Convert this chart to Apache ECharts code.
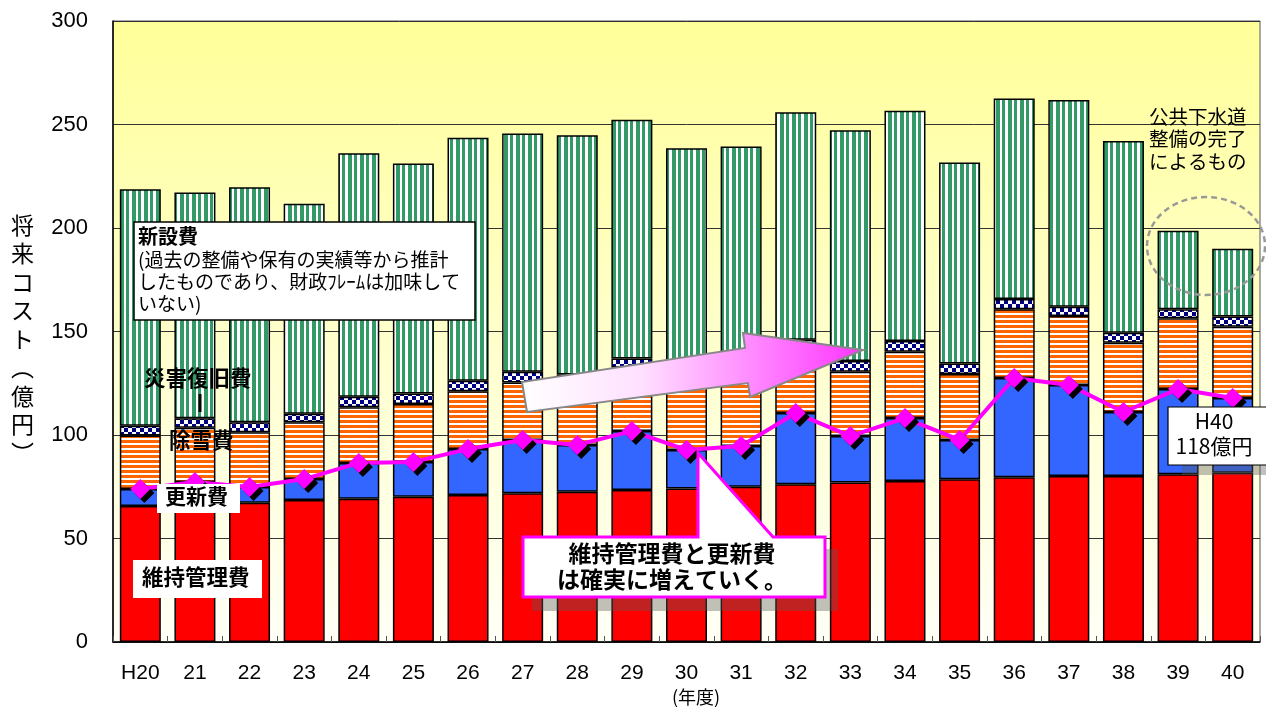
<!DOCTYPE html>
<html><head><meta charset="utf-8">
<script src="https://cdn.jsdelivr.net/npm/echarts@6/dist/echarts.min.js"></script>
<style>html,body{margin:0;padding:0;background:#fff}#c{width:1266px;height:707px}</style>
</head><body><div id="c"></div>
<script>
// ---- data ----
const years = ['H20','21','22','23','24','25','26','27','28','29','30','31','32','33','34','35','36','37','38','39','40'];
const yTicks = [0, 50, 100, 150, 200, 250, 300];
const maintenance = [65.7,66.5,67.3,68.6,69.2,70.2,71.0,71.8,72.6,73.4,74.2,75.0,76.2,77.0,77.8,78.6,79.6,80.2,80.2,81.0,81.8]; // 維持管理費
const renewal     = [8.2,10.8,7.6,10.1,17.3,16.8,22.2,25.8,22.6,28.5,18.6,19.7,34.4,22.5,30.4,19.0,47.9,44.0,30.9,41.2,36.1];   // 更新費
const snow        = [25.8,26.2,26.4,27.4,26.9,28.0,27.9,27.8,29.0,30.6,30.8,31.0,30.4,31.1,32.0,31.9,33.2,33.3,33.5,34.2,34.4]; // 除雪費
const disaster    = [4.8,4.6,4.8,4.2,5.1,5.1,5.1,5.2,5.0,4.5,5.0,5.0,5.0,5.1,5.2,5.1,5.0,4.5,4.8,4.3,4.9];                 // 災害復旧費
const newBuild    = [114.2,109.0,113.6,101.4,117.6,111.0,117.4,115.0,115.6,115.3,109.9,108.7,109.9,111.5,111.3,97.1,96.9,99.8,92.6,38.0,32.8]; // 新設費
const mainPlusRenewal = [73.9,77.3,74.9,78.7,86.5,87.0,93.2,97.6,95.2,101.9,92.8,94.7,110.6,99.5,108.2,97.6,127.5,124.2,111.1,122.2,117.9];

// ---- patterns ----
function mk(w,h,draw){const c=document.createElement('canvas');c.width=w;c.height=h;const g=c.getContext('2d');draw(g);return {image:c,repeat:'repeat'};}
const greenPat = mk(12,4,g=>{g.fillStyle='#fff';g.fillRect(0,0,12,4);g.fillStyle='#339966';g.fillRect(0,0,4,4);g.fillRect(6,0,3,4);});
const orangePat = mk(4,5,g=>{g.fillStyle='#fff';g.fillRect(0,0,4,5);g.fillStyle='#FF6600';g.fillRect(0,0,4,3);});
const checkPat = mk(8,8,g=>{g.fillStyle='#fff';g.fillRect(0,0,8,8);g.fillStyle='#000080';g.fillRect(0,0,4,4);g.fillRect(4,4,4,4);});

const FONT_NUM = '"Liberation Sans", Arial, sans-serif';
const FONT_JP = '"Noto Sans CJK JP", sans-serif';
const border = {borderColor:'#000', borderWidth:1.5};

function bar(name, data, color){
  return {name, type:'bar', stack:'t', data, barWidth:41, itemStyle:Object.assign({color}, border), emphasis:{disabled:true}, animation:false};
}

const chart = echarts.init(document.getElementById('c'));
const T = (x,y,text,opt)=>Object.assign({type:'text', x, y, z:100, style:Object.assign({text, font:'17px '+FONT_JP, fill:'#000'}, opt||{})});

chart.setOption({
  animation:false,
  grid:{left:113, right:6, top:21, bottom:65, show:true, borderColor:'#555', borderWidth:1,
    backgroundColor:{type:'linear',x:0,y:0,x2:0,y2:1,colorStops:[{offset:0,color:'#FFFF99'},{offset:0.55,color:'#FFFFD0'},{offset:1,color:'#FFFFF6'}]}},
  xAxis:{type:'category', data:years, axisLine:{lineStyle:{color:'#000', width:1.5}},
    axisTick:{show:true, inside:true, length:6, lineStyle:{color:'#555'}},
    axisLabel:{fontSize:21, fontFamily:FONT_NUM, color:'#000', margin:21}},
  yAxis:{type:'value', min:0, max:300, interval:50,
    axisLine:{show:true, lineStyle:{color:'#000', width:1.5}}, axisTick:{show:false},
    axisLabel:{fontSize:22, fontFamily:FONT_NUM, color:'#000', margin:25, formatter:v=>yTicks.includes(v)?String(v):''},
    splitLine:{lineStyle:{color:'#333', width:1}}},
  series:[
    bar('維持管理費', maintenance, '#FF0000'),
    bar('更新費', renewal, '#3366FF'),
    bar('除雪費', snow, orangePat),
    bar('災害復旧費', disaster, checkPat),
    bar('新設費', newBuild, greenPat),
    {name:'維持管理費＋更新費', type:'line', data:mainPlusRenewal, z:5, symbol:'diamond', symbolSize:[20,20],
      lineStyle:{color:'#FF00FF', width:4},
      itemStyle:{color:'#FF00FF', shadowColor:'#000', shadowOffsetX:4, shadowOffsetY:4, shadowBlur:0},
      emphasis:{disabled:true}}
  ],
  graphic:[
    // y axis title
    T(11, 211, '将\n来\nコ\nス\nト\n︵\n億\n円\n︶', {font:'23px '+FONT_JP, lineHeight:28.5}),
    T(696, 688, '(年度)', {font:'18px '+FONT_JP, align:'center'}),
    // 新設費 box
    {type:'rect', z:100, shape:{x:134, y:222, width:341, height:98}, style:{fill:'#fff', stroke:'#000', lineWidth:1.5}},
    T(138, 226, '新設費', {font:'bold 20px '+FONT_JP}),
    T(138, 249, '(過去の整備や保有の実績等から推計\nしたものであり、財政ﾌﾚｰﾑは加味して\nいない)', {font:'19px '+FONT_JP, lineHeight:22}),
    // labels on bars
    T(144, 367, '災害復旧費', {font:'bold 21.5px '+FONT_JP}),
    {type:'line', z:100, shape:{x1:200, y1:394, x2:200, y2:412}, style:{stroke:'#000', lineWidth:3}},
    T(169, 429, '除雪費', {font:'bold 21.5px '+FONT_JP}),
    {type:'rect', z:100, shape:{x:157, y:484, width:83, height:29}, style:{fill:'#fff'}},
    T(165, 486, '更新費', {font:'bold 21px '+FONT_JP}),
    {type:'rect', z:100, shape:{x:133, y:560, width:129, height:38}, style:{fill:'#fff'}},
    T(142, 566, '維持管理費', {font:'bold 21.5px '+FONT_JP}),
    // big arrow
    {type:'polygon', z:100, shape:{points:[[527,412],[522,382],[745,348],[743,333],[863,350],[750,397],[748,383]]},
      style:{fill:new echarts.graphic.LinearGradient(0,0,1,0,[{offset:0,color:'#FFFFFF'},{offset:0.35,color:'#FFE0FF'},{offset:1,color:'#FF33FF'}]), stroke:'#888', lineWidth:2}},
    // callout
    {type:'rect', z:99, shape:{x:532, y:549, width:306, height:62}, style:{fill:'rgba(90,90,90,0.38)'}},
    {type:'polygon', z:100, shape:{points:[[523,537],[698,537],[698,453],[773,537],[825,537],[825,597],[523,597]]},
      style:{fill:'#fff', stroke:'#FF00FF', lineWidth:3}},
    T(672, 540, '維持管理費と更新費\nは確実に増えていく。', {font:'bold 23px '+FONT_JP, lineHeight:26, align:'center'}),
    // sewer completion note
    T(1149, 105, '公共下水道\n整備の完了\nによるもの', {font:'19.5px '+FONT_JP, lineHeight:22.5}),
    {type:'ellipse', z:100, shape:{cx:1206, cy:246, rx:59, ry:49}, style:{fill:'none', stroke:'#999', lineWidth:2.5, lineDash:[6,4]}},
    // H40 box
    {type:'rect', z:99, shape:{x:1182, y:465, width:84, height:10}, style:{fill:'rgba(90,90,90,0.38)'}},
    {type:'rect', z:100, shape:{x:1168, y:407, width:100, height:58}, style:{fill:'#fff', stroke:'#000', lineWidth:1.2}},
    T(1214, 409, 'H40\n118億円', {font:'21px '+FONT_JP, lineHeight:25, align:'center'})
  ]
});
</script></body></html>
